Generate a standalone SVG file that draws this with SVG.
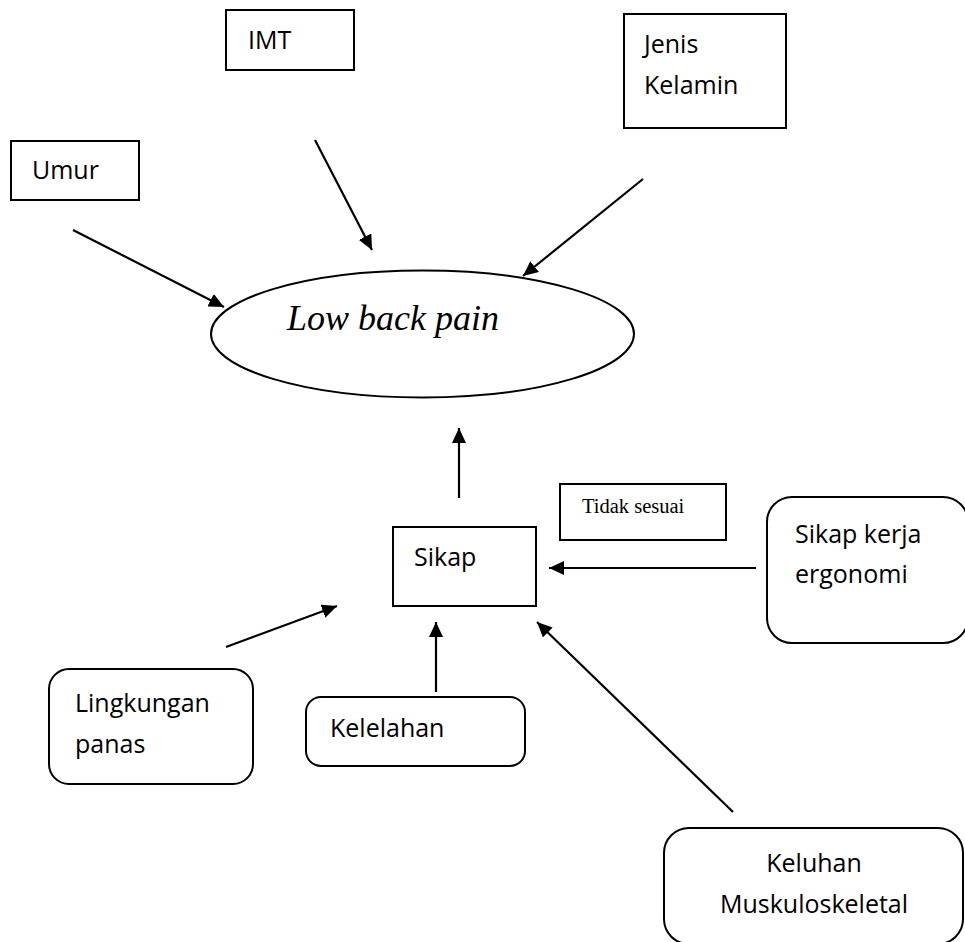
<svg xmlns="http://www.w3.org/2000/svg" width="965" height="942" viewBox="0 0 965 942">
<style>
.box{fill:#fff;stroke:#000;stroke-width:2}
.lbl{font-family:"Open Sans","Liberation Sans",sans-serif;font-size:25px;fill:#000}
.conn{stroke:#000;stroke-width:2.2;fill:none;marker-end:url(#ah)}
</style>
<defs>
<marker id="ah" markerUnits="userSpaceOnUse" markerWidth="16" markerHeight="14" refX="15" refY="7" orient="auto">
<path d="M0,0 L15,7 L0,14 z" fill="#000"/>
</marker>
</defs>
<rect width="965" height="942" fill="#fff"/>
<g id="imt"><rect class="box" x="226" y="10" width="128" height="60"/><text class="lbl" x="248" y="49">IMT</text></g>
<g id="umur"><rect class="box" x="11" y="141" width="128" height="59"/><text class="lbl" x="32" y="179">Umur</text></g>
<g id="jenis-kelamin"><rect class="box" x="624" y="14" width="162" height="114"/><text class="lbl" x="644" y="53">Jenis</text><text class="lbl" x="644" y="94">Kelamin</text></g>
<g id="low-back-pain"><ellipse cx="422.5" cy="334" rx="211.5" ry="63.5" fill="#fff" stroke="#000" stroke-width="2"/><text x="287" y="330" font-family="'Liberation Serif',serif" font-style="italic" font-size="36">Low back pain</text></g>
<g id="sikap"><rect class="box" x="393" y="527" width="143" height="79"/><text class="lbl" x="414" y="566">Sikap</text></g>
<g id="tidak-sesuai"><rect class="box" x="560" y="484" width="166" height="56"/><text x="582" y="513" font-family="'Liberation Serif',serif" font-size="20.5">Tidak sesuai</text></g>
<g id="sikap-kerja"><rect class="box" x="767" y="497" width="201" height="146" rx="25" ry="25"/><text class="lbl" x="795" y="543">Sikap kerja</text><text class="lbl" x="795" y="583">ergonomi</text></g>
<g id="lingkungan-panas"><rect class="box" x="49" y="669" width="204" height="115" rx="20" ry="20"/><text class="lbl" x="75" y="712">Lingkungan</text><text class="lbl" x="75" y="753">panas</text></g>
<g id="kelelahan"><rect class="box" x="306" y="697" width="219" height="69" rx="15" ry="15"/><text class="lbl" x="330" y="737">Kelelahan</text></g>
<g id="keluhan"><rect class="box" x="664" y="828" width="299" height="116" rx="25" ry="25"/><text class="lbl" x="814" y="872" text-anchor="middle">Keluhan</text><text class="lbl" x="814" y="913" text-anchor="middle">Muskuloskeletal</text></g>
<g id="connectors">
<line class="conn" x1="73" y1="230" x2="224" y2="307"/>
<line class="conn" x1="315" y1="140" x2="372" y2="250"/>
<line class="conn" x1="643" y1="179" x2="523" y2="276"/>
<line class="conn" x1="459" y1="498" x2="459" y2="428"/>
<line class="conn" x1="226" y1="647" x2="337" y2="606"/>
<line class="conn" x1="436" y1="692" x2="436" y2="622"/>
<line class="conn" x1="756" y1="568" x2="549" y2="568"/>
<line class="conn" x1="733" y1="812" x2="537" y2="622"/>
</g>
</svg>
